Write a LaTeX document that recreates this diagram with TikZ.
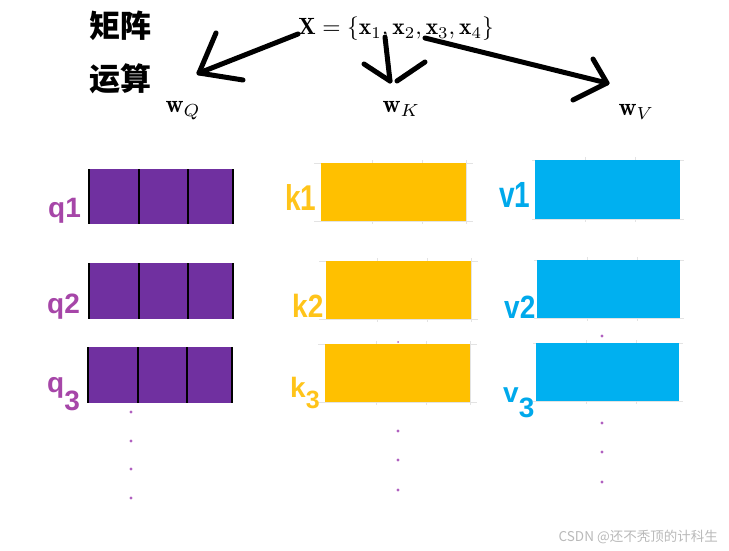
\documentclass[tikz,border=0pt]{standalone}
\usepackage{fontspec}
\newfontfamily\cjk{Noto Sans CJK SC}
\newfontfamily\lab{Liberation Sans}
\definecolor{qfill}{HTML}{7030A0}
\definecolor{qtext}{HTML}{A646A8}
\definecolor{kfill}{HTML}{FFC000}
\definecolor{ktext}{HTML}{FFC41A}
\definecolor{vfill}{HTML}{00B0F0}
\definecolor{vtext}{HTML}{00A9EB}
\definecolor{dotc}{HTML}{B060C0}
\begin{document}
\begin{tikzpicture}[x=1pt,y=-1pt,
  hand/.style={line width=5pt, line cap=round, line join=round, black},
  lbl/.style={inner sep=0pt, anchor=base west, font=\lab\bfseries\fontsize{28}{30}\selectfont},
  gridln/.style={gray!22, line width=0.8pt},
  sepln/.style={black, line width=1.3pt},
  dotm/.style={fill=dotc, circle, inner sep=0pt, minimum size=3.2pt},
  mathlbl/.style={inner sep=0pt, anchor=base west, scale=2.5}
]
\useasboundingbox (0,0) rectangle (729,551);

% Chinese title
\node[anchor=west, inner sep=0pt, font=\cjk\bfseries\fontsize{31}{31}\selectfont] (t1) at (89,26) {矩阵};
\node[anchor=west, inner sep=0pt, font=\cjk\bfseries\fontsize{31}{31}\selectfont] (t2) at (89,79) {运算};

% input set
\node[inner sep=0pt, anchor=base, scale=2.35] (X) at (396,35) {$\mathbf{X}=\{\mathbf{x}_1,\mathbf{x}_2,\mathbf{x}_3,\mathbf{x}_4\}$};

% weight labels
\node[mathlbl] (wq) at (165,113) {$\mathbf{w}_Q$};
\node[mathlbl] (wk) at (382,113) {$\mathbf{w}_K$};
\node[mathlbl] (wv) at (618,116) {$\mathbf{w}_V$};

% hand-drawn arrows
\coordinate (aq0) at (298,34); \coordinate (aq1) at (199,73);
\coordinate (aq2) at (216,33); \coordinate (aq3) at (243,80);
\draw[hand] (aq0) -- (aq1);
\draw[hand] (aq2) -- (aq1) -- (aq3);
\coordinate (ak0) at (385,37); \coordinate (ak1) at (390,81);
\coordinate (ak2) at (364,64); \coordinate (ak3) at (397,81); \coordinate (ak4) at (425,62);
\draw[hand] (ak0) -- (ak1);
\draw[hand] (ak2) -- (ak1);
\draw[hand] (ak3) -- (ak4);
\coordinate (av0) at (425,38); \coordinate (av1) at (607,83);
\coordinate (av2) at (593,59); \coordinate (av3) at (573,100);
\draw[hand] (av0) -- (av1);
\draw[hand] (av2) -- (av1) -- (av3);

% q boxes
\foreach \x/\ya/\yb in {89/169/224, 89/263/319, 88/347/403}{
  \fill[qfill] (\x,\ya) rectangle ({\x+144},\yb);
  \foreach \d in {0,50,99,144}{
    \draw[sepln] ({\x+\d},\ya) -- ({\x+\d},\yb);
  }
}

% k boxes
\foreach \x/\ya/\yb in {321/163/221, 326/261/319, 325/344/402}{
  \draw[gridln] ({\x-7},\ya) -- ({\x+152},\ya);
  \draw[gridln] ({\x-7},\yb) -- ({\x+152},\yb);
  \foreach \d in {51,101,145}{
    \draw[gridln] ({\x+\d},{\ya-3}) -- ({\x+\d},{\yb+3});
  }
  \fill[kfill] (\x,\ya) rectangle ({\x+145},\yb);
}

% v boxes
\foreach \x/\ya/\yb/\w in {535/160/219/145, 537/260/318/143, 536/343/401/143}{
  \draw[gridln] ({\x-3},\ya) -- ({\x+\w+4},\ya);
  \draw[gridln] ({\x-3},\yb) -- ({\x+\w+4},\yb);
  \foreach \d in {50,100}{
    \draw[gridln] ({\x+\d},{\ya-3}) -- ({\x+\d},{\yb+3});
  }
  \fill[vfill] (\x,\ya) rectangle ({\x+\w},\yb);
}

% labels
\node[lbl, text=qtext] (lq1) at (48,217) {q1};
\node[lbl, text=qtext] (lq2) at (47,313) {q2};
\node[lbl, text=qtext] (lq3) at (47,392) {q\raisebox{-18pt}{3}};
\node[lbl, text=ktext] (lk1) at (285,210) {\scalebox{1}[1.28]{k1}};
\node[lbl, text=ktext] (lk2) at (292,317) {\scalebox{1}[1.15]{k2}};
\node[lbl, text=ktext] (lk3) at (290,397) {k\raisebox{-11pt}{\fontsize{25}{25}\selectfont 3}};
\node[lbl, text=vtext] (lv1) at (499,207) {\scalebox{1}[1.3]{v1}};
\node[lbl, text=vtext] (lv2) at (504,318) {\scalebox{1}[1.15]{v2}};
\node[lbl, text=vtext] (lv3) at (503,402) {v\raisebox{-15pt}{3}};

% dots
\foreach \y in {412,441,469,498}{ \node[dotm] at (131,\y) {}; }
\foreach \y in {431,460,490}{ \node[dotm] at (398,\y) {}; }
\foreach \y in {336,423,452,482}{ \node[dotm] at (602,\y) {}; }
\node[dotm, minimum size=2pt] (dk) at (398,342) {};

% watermark
\node[anchor=east, inner sep=0pt, font=\cjk\fontsize{13.5}{14}\selectfont, text=gray!55] (wm) at (718,537) {CSDN @还不秃顶的计科生};
\end{tikzpicture}
\end{document}
